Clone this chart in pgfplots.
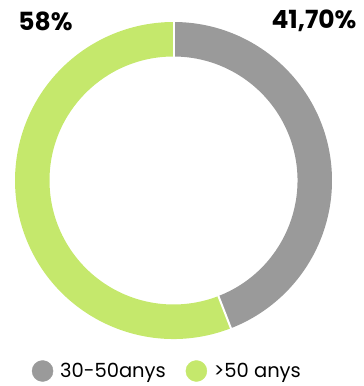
\documentclass[border=0pt]{standalone}
\usepackage{fontspec}
\setmainfont{Poppins}
\usepackage{pgfplots}
\pgfplotsset{compat=1.18}
\definecolor{cgray}{HTML}{9A9A9A}
\definecolor{cgreen}{HTML}{C5E86C}
\begin{document}
\begin{tikzpicture}
\pgfmathsetmacro\k{1/28.4528}
\pgfmathsetmacro\Ro{158.5*\k}
\pgfmathsetmacro\Ri{124*\k}
% data (share of the ring)
\def\vA{44.1}% 30-50anys
\def\vB{55.9}% >50 anys
\pgfmathsetmacro\aA{360*\vA/(\vA+\vB)}
\pgfmathsetmacro\eA{90-\aA}
\pgfmathsetmacro\xa{-173.5*\k}
\pgfmathsetmacro\xb{189.5*\k}
\pgfmathsetmacro\ya{-205.5*\k}
\pgfmathsetmacro\yb{180.5*\k}
\begin{axis}[x=1cm, y=1cm, hide axis, clip=false,
  xmin=\xa, xmax=\xb, ymin=\ya, ymax=\yb,
  legend columns=2,
  legend style={at={({167.5/363},{15/386})}, anchor=center, draw=none, fill=none,
    font=\fontsize{19.5}{21}\selectfont, inner sep=0pt,
    /tikz/every odd column/.append style={column sep=5pt},
    /tikz/every even column/.append style={column sep=18pt}},
  legend cell align=left]
\addlegendimage{only marks, mark=*, mark size=10.5pt, color=cgray}
\addlegendentry{30-50anys}
\addlegendimage{only marks, mark=*, mark size=10.5pt, color=cgreen}
\addlegendentry{>50 anys}
\path (axis cs:\xa,\ya) rectangle (axis cs:\xb,\yb);
\fill[cgray] (axis cs:{\Ro*cos(90)},{\Ro*sin(90)}) arc[start angle=90, end angle=\eA, radius=\Ro cm]
  -- (axis cs:{\Ri*cos(\eA)},{\Ri*sin(\eA)}) arc[start angle=\eA, end angle=90, radius=\Ri cm] -- cycle;
\fill[cgreen] (axis cs:{\Ro*cos(\eA)},{\Ro*sin(\eA)}) arc[start angle=\eA, end angle=-270, radius=\Ro cm]
  -- (axis cs:{\Ri*cos(90)},{\Ri*sin(90)}) arc[start angle=-270, end angle=\eA, radius=\Ri cm] -- cycle;
\draw[white, line width=2pt] (axis cs:{0.97*\Ri*cos(90)},{0.97*\Ri*sin(90)}) -- (axis cs:{1.03*\Ro*cos(90)},{1.03*\Ro*sin(90)});
\draw[white, line width=2pt] (axis cs:{0.97*\Ri*cos(\eA)},{0.97*\Ri*sin(\eA)}) -- (axis cs:{1.03*\Ro*cos(\eA)},{1.03*\Ro*sin(\eA)});
\node[font=\bfseries\fontsize{25}{28}\selectfont] at (axis cs:{(45.5-173.5)*\k},{(180.5-21)*\k}) {58\%};
\node[font=\bfseries\fontsize{25}{28}\selectfont] at (axis cs:{(314-173.5)*\k},{(180.5-21)*\k}) {41,70\%};
\end{axis}
\end{tikzpicture}
\end{document}
